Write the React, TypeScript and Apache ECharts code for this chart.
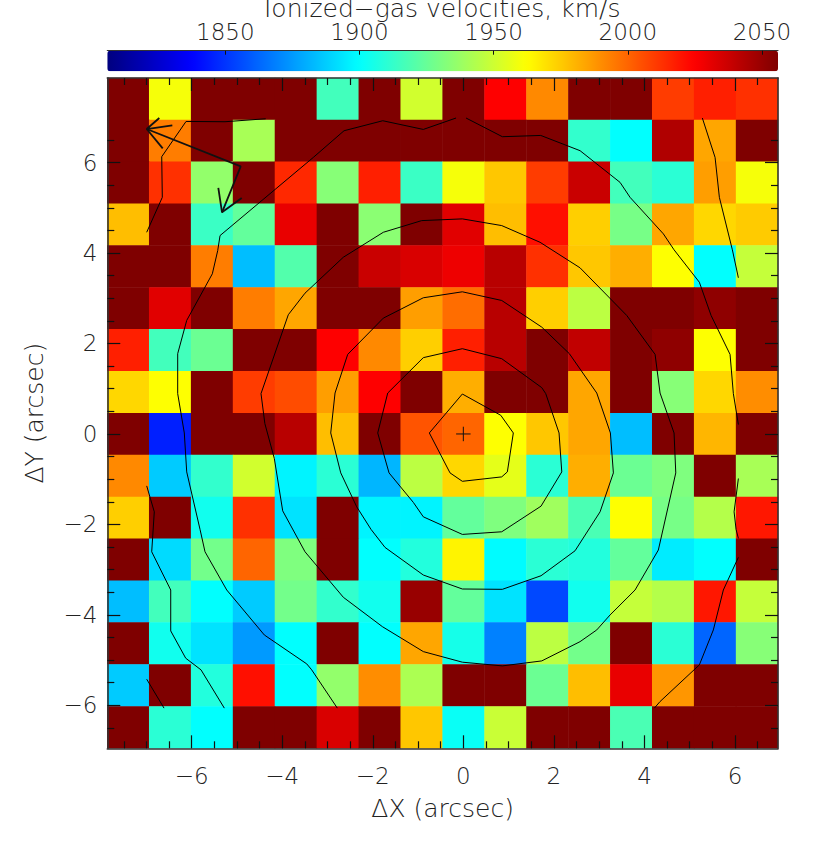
import React, { useEffect, useRef } from "react";
import * as echarts from "echarts";

const D = 2056;
const cellCentersX = ["-7.41","-6.48","-5.56","-4.63","-3.70","-2.78","-1.85","-0.93","0","0.93","1.85","2.78","3.70","4.63","5.56","6.48"];
const cellCentersY = ["6.48","5.56","4.63","3.70","2.78","1.85","0.93","0","-0.93","-1.85","-2.78","-3.70","-4.63","-5.56","-6.48","-7.41"].map((_, i) => String(7 - i));

const row00 = [D, 1960, D, D, D, 1916, D, 1951, D, 2025, 1991, D, D, 2010, 2017, 2013];
const row01 = [D, 1994, D, 1941, D, D, D, D, D, D, D, 1912, 1900, 2044, 1984, D];
const row02 = [D, 2013, 1936, D, 2015, 1933, 2017, 1914, 1960, 1976, 2010, 2038, 1916, 1910, 1986, 1960];
const row03 = [1978, D, 1914, 1924, 2030, D, 1934, D, 2032, 1978, 2021, 1974, 1929, 1984, 1972, 1975];
const row04 = [D, D, 1994, 1884, 1920, D, 2038, 2034, 2029, 2042, 2013, 1976, 1982, 1962, 1900, 1948];
const row05 = [D, 2032, D, 1994, 1984, D, D, 1986, 1998, 2042, 1974, 1946, D, D, 2052, D];
const row06 = [2017, 1916, 1926, D, D, 2025, 1991, 1974, 2017, 2042, D, 2040, D, 2052, 1962, D];
const row07 = [1972, 1962, D, 2010, 2006, 1986, 2025, D, 1982, D, D, 1984, D, 1933, 1972, 1990];
const row08 = [D, 1845, D, D, 2042, 1978, D, 2004, 2000, 1962, 1976, 1984, 1884, D, 1980, D];
const row09 = [1991, 1887, 1912, 1951, 1897, 1910, 1882, 1946, 1972, 1956, 1910, 1982, 1926, 1931, D, 1941];
const row10 = [1974, D, 1904, 2013, 1893, D, 1897, 1897, 1924, 1931, 1939, 1918, 1962, 1929, 1944, 2019];
const row11 = [D, 1891, 1928, 2000, 1931, D, 1900, 1908, 1965, 1899, 1910, 1908, 1924, 1895, 1900, D];
const row12 = [1884, 1916, 1900, 1887, 1928, 1912, 1904, 2050, 1924, 1893, 1855, 1904, 1948, 1944, 2019, 1948];
const row13 = [D, 1904, 1893, 1875, 1900, D, 1900, 1984, 1905, 1869, 1946, 1928, D, 1910, 1862, 1933];
const row14 = [1887, D, 1908, 2021, 1900, 1936, 1990, 1942, D, D, 1926, 1978, 2030, 1988, D, D];
const row15 = [D, 1910, 1900, D, D, 2034, D, 1976, 1902, 1949, D, D, 1918, D, D, D];
const rows = [row00, row01, row02, row03, row04, row05, row06, row07, row08, row09, row10, row11, row12, row13, row14, row15];

const contourA = [[-0.751,0.022],[-0.022,0.883],[0.826,0.413],[1.104,0.022],[0.972,-0.839],[0.848,-0.949],[-0.022,-1.047],[-0.294,-0.861],[-0.751,0.022]];
const contourB = [[-1.891,0.022],[-1.67,0.905],[-0.884,1.687],[-0.022,1.885],[0.848,1.664],[1.732,1.024],[1.82,0.892],[2.114,0.022],[2.174,-0.839],[1.716,-1.596],[0.848,-2.163],[-0.022,-2.221],[-0.884,-1.832],[-1.104,-1.514],[-1.641,-0.861],[-1.891,0.022]];
const contourC = [[-2.929,0.022],[-2.834,0.905],[-2.554,1.759],[-1.767,2.561],[-0.884,3.011],[-0.022,3.143],[0.848,2.951],[1.732,2.362],[2.342,1.775],[2.947,0.905],[3.248,0.022],[3.314,-0.861],[3.02,-1.722],[2.467,-2.583],[1.716,-3.135],[0.862,-3.435],[-0.022,-3.428],[-0.884,-3.119],[-1.73,-2.508],[-2.039,-2.11],[-2.355,-1.611],[-2.708,-0.861],[-2.929,0.022]];
const contourD = [[-4.469,0.892],[-3.866,2.636],[-3.497,3.113],[-2.651,3.907],[-1.767,4.459],[-0.919,4.717],[-0.022,4.755],[0.848,4.607],[1.694,4.238],[2.578,3.673],[3.609,2.62],[4.235,1.759],[4.345,0.905],[4.654,0.022],[4.692,-0.861],[4.307,-2.567],[3.793,-3.45],[3.241,-4.002],[2.947,-4.333],[2.578,-4.592],[1.732,-5.018],[0.862,-5.128],[-0.022,-5.046],[-0.884,-4.812],[-1.789,-4.26],[-2.651,-3.611],[-3.497,-2.605],[-3.99,-1.7],[-4.175,-0.543],[-4.384,0.23],[-4.469,0.892]];
const fragment1 = [[-6.994,4.459],[-6.649,5.232],[-6.662,6.13],[-6.125,6.909],[-5.264,6.903],[-4.365,6.969]];
const fragment2 = [[-0.161,6.985],[-0.884,6.733],[-1.78,6.925],[-2.635,6.704],[-3.313,6.115],[-5.374,4.386],[-5.425,4.055],[-5.544,3.541],[-6.11,2.51],[-6.309,1.775],[-6.309,0.892],[-6.163,0.022],[-6.11,-0.839],[-5.816,-2.11],[-5.706,-2.605],[-5.226,-3.45],[-4.396,-4.444],[-3.459,-5.084],[-3.349,-5.216],[-2.783,-6.062]];
const fragment3 = [[0.06,6.985],[0.862,6.572],[1.71,6.6],[2.578,6.263],[3.461,5.563],[3.682,5.232],[4.418,4.424],[4.654,4.071],[5.213,3.355],[5.472,2.62],[5.891,1.759],[5.964,0.892],[6.075,0.208]];
const fragment4 = [[5.279,6.985],[5.56,6.115],[5.655,5.232],[5.942,4.071],[6.075,3.453]];
const fragment5 = [[6.075,-0.985],[5.98,-1.722],[6.024,-2.11],[6.075,-2.309]];
const fragment6 = [[6.075,-2.728],[5.743,-3.45],[5.522,-4.333],[5.213,-5.106],[4.345,-5.916],[4.219,-6.062]];
const fragment7 = [[-6.994,-1.148],[-6.826,-1.722],[-6.883,-2.605],[-6.463,-3.45],[-6.463,-4.355],[-6.132,-4.958],[-5.794,-5.216],[-5.279,-6.062]];
const fragment8 = [[-6.994,-5.422],[-6.611,-6.062]];
const contours = [contourA, contourB, contourC, contourD, fragment1, fragment2, fragment3, fragment4, fragment5, fragment6, fragment7, fragment8];

const arrowShaft = [[-6.994,6.742],[-4.917,5.916],[-5.33,4.901]];
const arrowHeadE1 = [[-6.715,6.985],[-6.994,6.742],[-6.428,6.821]];
const arrowHeadE2 = [[-6.64,6.313],[-6.994,6.742]];
const arrowHeadN = [[-5.412,5.439],[-5.33,4.901],[-4.895,5.219]];
const arrows = [arrowShaft, arrowHeadE1, arrowHeadE2, arrowHeadN];

const crossH = [[-0.16,0],[0.16,0]];
const crossV = [[0,-0.16],[0,0.16]];

const majorTicksX = [-6, -4, -2, 0, 2, 4, 6];
const majorTicksY = [-6, -4, -2, 0, 2, 4, 6];
const minorTicks = [-7.5,-7,-6.5,-5.5,-5,-4.5,-3.5,-3,-2.5,-1.5,-1,-0.5,0.5,1,1.5,2.5,3,3.5,4.5,5,5.5,6.5];
const barTicks = [1850, 1900, 1950, 2000, 2050];
const jet = ["#00007f","#0000ff","#007fff","#00ffff","#7fff7f","#ffff00","#ff7f00","#ff0000","#7f0000"];

const X_MIN = -7.864, X_MAX = 6.95, Y_MIN = -6.95, Y_MAX = 7.87;
const BAR_MIN = 1806, BAR_MAX = 2056;

const FONT = "'DejaVu Sans'";
const INK = "#222222";

export default function App() {
  const ref = useRef<HTMLDivElement>(null);
  useEffect(() => {
    const chart = echarts.init(ref.current!, undefined, { renderer: "svg" });
    const labelStyle = { fontFamily: FONT, fontSize: 23, fontWeight: 200, color: INK };
    const nameStyle = { fontFamily: FONT, fontSize: 25, fontWeight: 200, color: INK };
    const fmt = (v: number) => (v < 0 ? "\u2212" + Math.abs(v) : String(v));
    const boundAxis = (extra: any) => ({
      type: "value", gridIndex: 1, z: 6, splitLine: { show: false },
      axisLine: { show: false, onZero: false },
      axisLabel: { show: false },
      ...extra,
    });
    const tickSet = (values: number[], length: number) => ({
      show: true, inside: true, length, customValues: values, lineStyle: { color: "#111", width: 1.2 },
    });
    const frame = { show: true, onZero: false, lineStyle: { color: "#333", width: 1.6 } };
    const xRange = { min: X_MIN, max: X_MAX };
    const yRange = { min: Y_MIN, max: Y_MAX };
    const lineSeries = (data: number[][], width: number, color: string) => ({
      type: "line", xAxisIndex: 1, yAxisIndex: 1, data, symbol: "none", silent: true, z: 4,
      lineStyle: { color, width }, clip: false,
    });

    chart.setOption({
      animation: false,
      backgroundColor: "#fff",
      title: {
        text: "Ionized\u2212gas velocities, km/s",
        left: 264, top: 0, padding: 0,
        textStyle: { ...nameStyle, lineHeight: 16 },
      },
      grid: [
        { left: 107.3, top: 78, width: 670.7, height: 670.3 },
        { left: 107.3, top: 78, width: 670.7, height: 670.3 },
        { left: 107.3, top: 50.7, width: 670.7, height: 20.6 },
      ],
      visualMap: {
        type: "continuous", seriesIndex: 0, min: BAR_MIN, max: BAR_MAX,
        orient: "horizontal", left: 107.3, top: 50.7, padding: 0,
        itemWidth: 20.6, itemHeight: 670.7, calculable: false, showLabel: false, hoverLink: false,
        inRange: { color: jet }, text: null,
      },
      xAxis: [
        { type: "category", gridIndex: 0, data: cellCentersX, show: false, boundaryGap: true },
        boundAxis({
          ...xRange, position: "bottom", axisLine: frame, axisTick: tickSet(majorTicksX, 13),
          axisLabel: { show: true, customValues: majorTicksX, formatter: fmt, margin: 16, ...labelStyle },
          name: "\u0394X (arcsec)", nameLocation: "middle", nameGap: 48,
          nameTextStyle: nameStyle,
        }),
        boundAxis({ ...xRange, position: "bottom", axisTick: tickSet(minorTicks, 7) }),
        boundAxis({ ...xRange, position: "top", axisLine: frame, axisTick: tickSet(majorTicksX, 13) }),
        boundAxis({ ...xRange, position: "top", axisTick: tickSet(minorTicks, 7) }),
        {
          type: "value", gridIndex: 2, position: "top", min: BAR_MIN, max: BAR_MAX, z: 6,
          splitLine: { show: false },
          axisLine: { show: true, onZero: false, lineStyle: { color: "#333", width: 1.2 } },
          axisTick: { show: true, inside: true, length: 4, customValues: barTicks, lineStyle: { color: "#111", width: 1 } },
          axisLabel: { show: true, customValues: barTicks, formatter: (v: number) => String(v), margin: 7, ...labelStyle },
        },
      ],
      yAxis: [
        { type: "category", gridIndex: 0, data: cellCentersY, show: false, inverse: true, boundaryGap: true },
        boundAxis({
          ...yRange, position: "left", axisLine: frame, axisTick: tickSet(majorTicksY, 13),
          axisLabel: { show: true, customValues: majorTicksY, formatter: fmt, margin: 10, ...labelStyle },
          name: "\u0394Y (arcsec)", nameLocation: "middle", nameGap: 60,
          nameTextStyle: nameStyle,
        }),
        boundAxis({ ...yRange, position: "left", axisTick: tickSet(minorTicks, 7) }),
        boundAxis({ ...yRange, position: "right", axisLine: frame, axisTick: tickSet(majorTicksY, 13) }),
        boundAxis({ ...yRange, position: "right", axisTick: tickSet(minorTicks, 7) }),
        {
          type: "value", gridIndex: 2, min: 0, max: 1, z: 6, splitLine: { show: false },
          axisLine: { show: false }, axisTick: { show: false }, axisLabel: { show: false },
        },
      ],
      series: [
        {
          type: "heatmap", xAxisIndex: 0, yAxisIndex: 0, z: 2, silent: true,
          data: rows.flatMap((r, y) => r.map((v, x) => [x, y, v])),
          itemStyle: { borderWidth: 0 },
        },
        ...contours.map((c) => lineSeries(c, 1, "#000")),
        ...arrows.map((c) => lineSeries(c, 1.8, "#111")),
        lineSeries(crossH, 1, "#111"),
        lineSeries(crossV, 1, "#111"),
      ],
    });
    return () => chart.dispose();
  }, []);
  return <div ref={ref} style={{ position: "absolute", left: 0, top: 0, width: 830, height: 849 }} />;
}
